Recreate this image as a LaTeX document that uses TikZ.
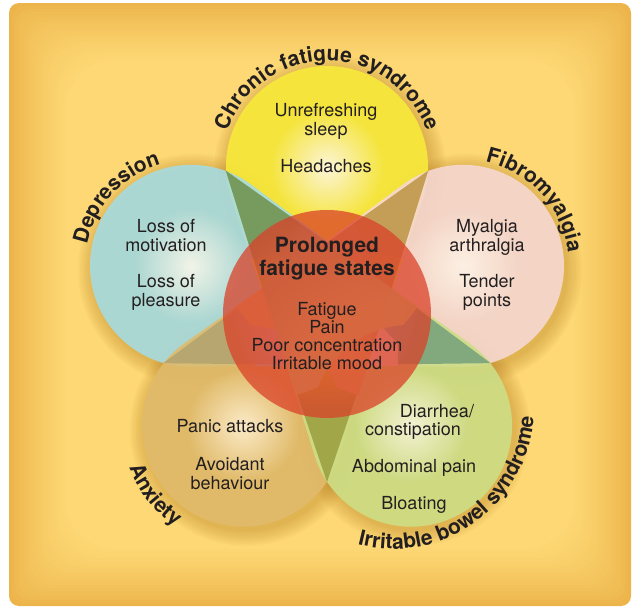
\documentclass[tikz,border=0pt]{standalone}
\usepackage{fontspec}
\setmainfont{TeX Gyre Heros}
\usetikzlibrary{calc,decorations.text}

\definecolor{bgdark}{HTML}{ECB44A}
\definecolor{bglight}{HTML}{FDD874}
\definecolor{txt}{HTML}{231F20}
\definecolor{shadowc}{HTML}{A86A10}
\definecolor{redc}{HTML}{DB4028}
\definecolor{Yhi}{HTML}{FFFCE6}
\definecolor{Ymain}{HTML}{F8EA3A}
\definecolor{Yedge}{HTML}{E0CC36}
\definecolor{Ytail}{HTML}{9CA040}
\definecolor{Bhi}{HTML}{F4FBF8}
\definecolor{Bmain}{HTML}{A6DBE0}
\definecolor{Bedge}{HTML}{88B2BA}
\definecolor{Btail}{HTML}{78A27C}
\definecolor{Phi}{HTML}{FFF7F3}
\definecolor{Pmain}{HTML}{F6D8D2}
\definecolor{Pedge}{HTML}{D4B0AE}
\definecolor{Ptail}{HTML}{B3A470}
\definecolor{Ahi}{HTML}{FFF1D4}
\definecolor{Amain}{HTML}{E0BB6C}
\definecolor{Aedge}{HTML}{C09C60}
\definecolor{Atail}{HTML}{C49E56}
\definecolor{Ghi}{HTML}{F5F9E2}
\definecolor{Gmain}{HTML}{CCDE86}
\definecolor{Gedge}{HTML}{A4B676}
\definecolor{Gtail}{HTML}{779A5E}

\pgfdeclareradialshading{shY}{\pgfpointorigin}{color(0bp)=(Yhi); color(3.5bp)=(Ymain); color(9bp)=(Ymain); color(12.5bp)=(Yedge); color(15bp)=(Ytail); color(50bp)=(Ytail)}
\pgfdeclareradialshading{shB}{\pgfpointorigin}{color(0bp)=(Bhi); color(3.5bp)=(Bmain); color(8bp)=(Bmain); color(12.5bp)=(Bedge); color(15bp)=(Btail); color(50bp)=(Btail)}
\pgfdeclareradialshading{shP}{\pgfpointorigin}{color(0bp)=(Phi); color(3.5bp)=(Pmain); color(8bp)=(Pmain); color(12.5bp)=(Pedge); color(15bp)=(Ptail); color(50bp)=(Ptail)}
\pgfdeclareradialshading{shA}{\pgfpointorigin}{color(0bp)=(Ahi); color(3.5bp)=(Amain); color(8bp)=(Amain); color(12.5bp)=(Aedge); color(15bp)=(Atail); color(50bp)=(Atail)}
\pgfdeclareradialshading{shG}{\pgfpointorigin}{color(0bp)=(Ghi); color(3.5bp)=(Gmain); color(8bp)=(Gmain); color(12.5bp)=(Gedge); color(15bp)=(Gtail); color(50bp)=(Gtail)}

% full teardrop (tip, tangent sides, far arc)
\newcommand\drawtear[2]{%
  \begin{scope}
    \clip ($(O)+(#1+180:172)$) -- ($(O)+(#1:143)+(#1+108.7:101)$)
      arc[start angle=#1+108.7, delta angle=-217.4, radius=101] -- cycle;
    \shade[shading=#2, opacity=0.9] ($(O)+(#1:143)$) circle (404);
  \end{scope}}
% tail only, near the tip, repainted on top
\newcommand\drawtail[2]{%
  \begin{scope}
    \clip ($(O)+(#1+180:172)$) -- ($(O)+(#1:143)+(#1+108.7:101)$)
      arc[start angle=#1+108.7, delta angle=142.6, radius=101] -- cycle;
    \clip ($(O)+(#1+180:172)$) circle (235);
    \shade[shading=#2, opacity=0.88] ($(O)+(#1:143)$) circle (404);
  \end{scope}}
\newcommand\drawhalo[1]{%
  \foreach \k in {1,...,8}{\fill[shadowc, opacity=0.045] ($(O)+(#1:143)+(3,-4)$) circle ({100+2*\k});}}
\newcommand\lblfont{\bfseries\fontsize{21}{21}\selectfont}

\begin{document}
\begin{tikzpicture}[x=1pt,y=1pt,
  body/.style={font=\fontsize{18}{19}\selectfont, text=txt, align=center, inner sep=0pt},
  title/.style={font=\bfseries\fontsize{21}{22.5}\selectfont, text=txt, align=center, inner sep=0pt},
  curvelabel/.style={decorate, decoration={text along path, text color=txt, text align=center, text={|\lblfont|#1}}}]
\useasboundingbox (0,0) rectangle (633,-608);
% background panel
\foreach \i in {0,...,19}{
  \pgfmathsetmacro\p{100*(\i/19)^0.8}
  \pgfmathsetmacro\rc{10+2*\i}
  \fill[bglight!\p!bgdark, rounded corners=\rc pt] ({9+3*\i},{-3-3*\i}) rectangle ({631-3*\i},{-606+3*\i});
}
\coordinate (O) at (327,-310);
% soft shadows
\drawhalo{90}\drawhalo{162}\drawhalo{18}\drawhalo{234}\drawhalo{306}
% petals
\drawtear{90}{shY}
\drawtear{162}{shB}
\drawtear{18}{shP}
\drawtear{234}{shA}
\drawtear{306}{shG}
\drawtail{90}{shY}
\drawtail{162}{shB}
\drawtail{18}{shP}
\drawtail{234}{shA}
\drawtail{306}{shG}
% central circle
\fill[redc, opacity=0.74] (327,-314) circle (104);
% curved labels
\path[curvelabel={Chronic fatigue syndrome}] ($(O)+(90:143)+(170:106)$) arc[start angle=170, end angle=10, radius=106];
\path[curvelabel={Depression}] ($(O)+(162:143)+(200:106)$) arc[start angle=200, end angle=75, radius=106];
\path[curvelabel={Fibromyalgia}] ($(O)+(18:143)+(110:106)$) arc[start angle=110, end angle=-25, radius=106];
\path[curvelabel={Anxiety}] ($(O)+(234:143)+(178:121)$) arc[start angle=178, end angle=258, radius=121];
\path[curvelabel={Irritable bowel syndrome}] ($(393,-408)+(226:141)$) arc[start angle=226, end angle=386, radius=141];
% texts
\node[body, anchor=north] (unref) at (326,-103.5) {Unrefreshing\\sleep};
\node[body, anchor=base] (head) at (326,-172) {Headaches};
\node[body, anchor=north] (motiv) at (166,-219) {Loss of\\motivation};
\node[body, anchor=north] (pleas) at (166,-274) {Loss of\\pleasure};
\node[body, anchor=north] (myal) at (487,-219) {Myalgia\\arthralgia};
\node[body, anchor=north] (tender) at (487,-274) {Tender\\points};
\node[title, anchor=north] (pfs) at (327,-237.4) {Prolonged\\fatigue states};
\node[body, anchor=north, font=\fontsize{18}{18.2}\selectfont] (sympt) at (327,-302) {Fatigue\\Pain\\Poor concentration\\Irritable mood};
\node[body, anchor=base] (panic) at (230,-432.7) {Panic attacks};
\node[body, anchor=north] (avoid) at (230,-457) {Avoidant\\behaviour};
\node[body, anchor=base] (diar) at (437,-417) {Diarrhea/};
\node[body, anchor=base] (const) at (413,-435) {constipation};
\node[body, anchor=base] (abdo) at (414,-472.7) {Abdominal pain};
\node[body, anchor=base] (bloat) at (414,-509) {Bloating};
\end{tikzpicture}
\end{document}
